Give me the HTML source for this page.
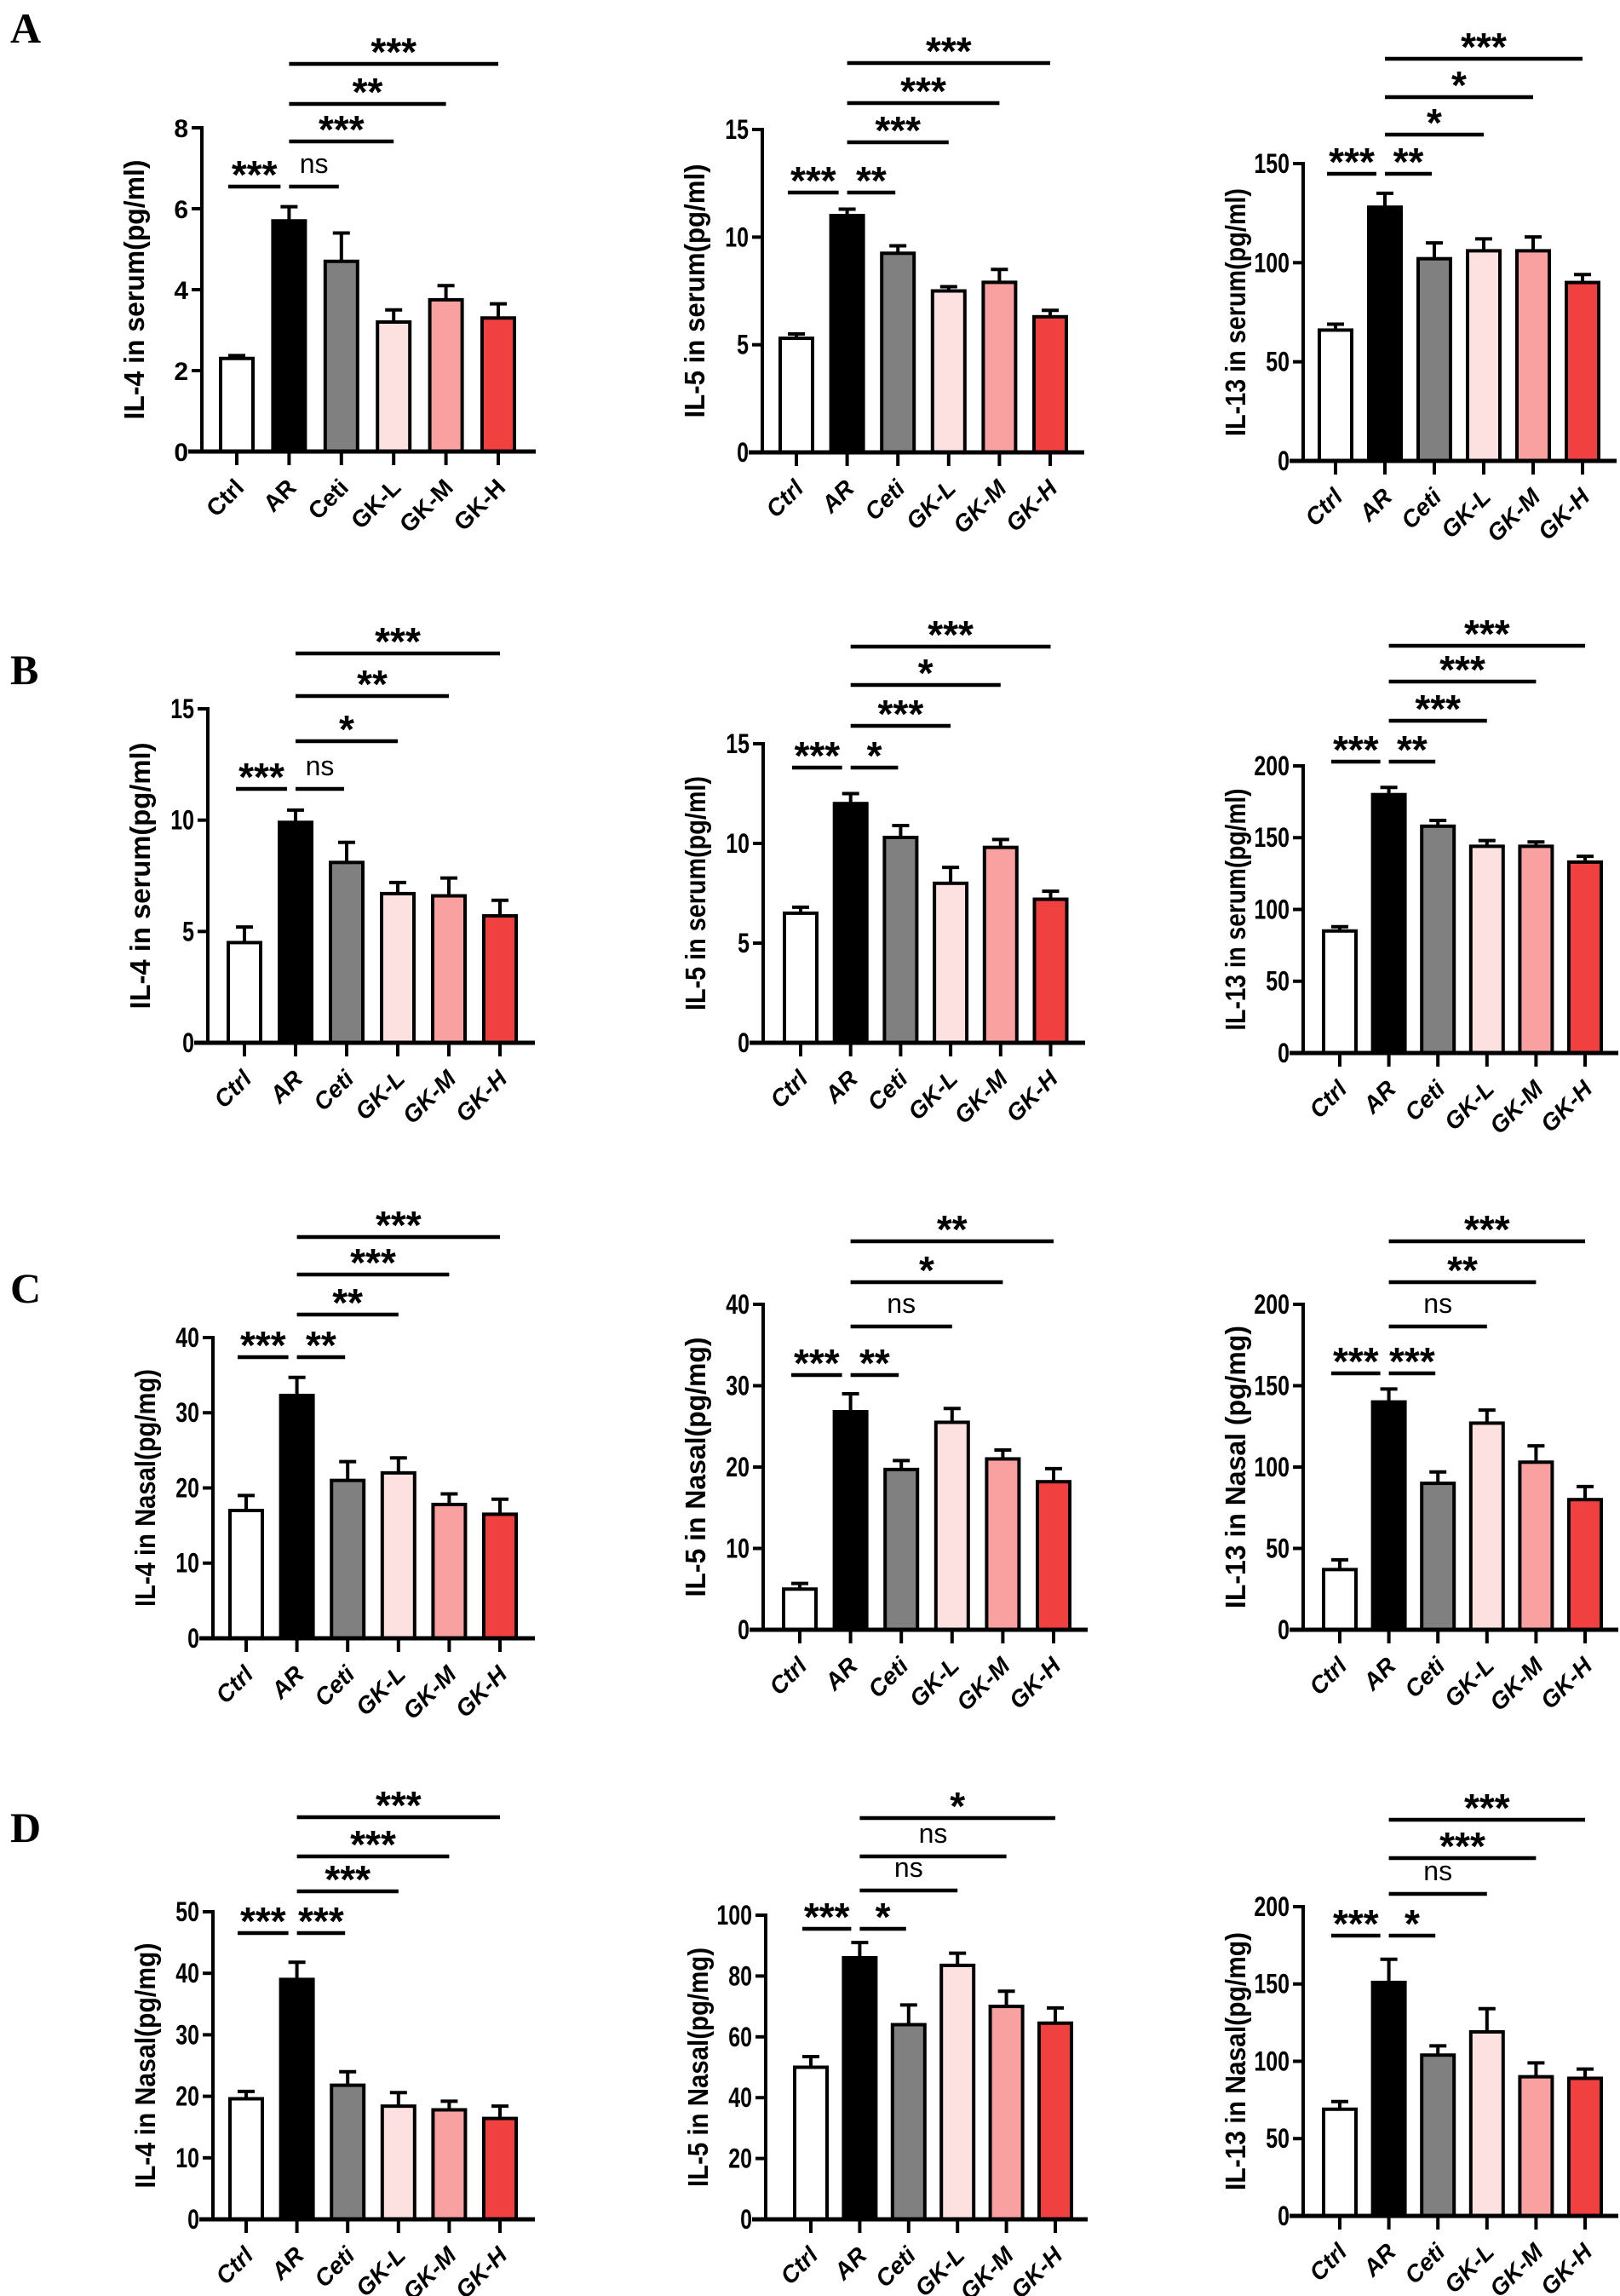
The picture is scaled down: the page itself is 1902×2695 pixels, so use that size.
<!DOCTYPE html>
<html>
<head>
<meta charset="utf-8">
<style>
  html,body{margin:0;padding:0;background:#fff;}
  svg{display:block;}
  text{font-family:"Liberation Sans",sans-serif;}
  text.panel{font-family:"Liberation Serif",serif;}
</style>
</head>
<body>
<svg id="fig" width="1902" height="2695" viewBox="0 0 1902 2695" xmlns="http://www.w3.org/2000/svg">
  <rect width="1902" height="2695" fill="#fff"/>
  <text class="panel" x="12" y="50" font-weight="bold" font-size="50">A</text>
  <text class="panel" x="12" y="803" font-weight="bold" font-size="50">B</text>
  <text class="panel" x="12" y="1529" font-weight="bold" font-size="50">C</text>
  <text class="panel" x="12" y="2162" font-weight="bold" font-size="50">D</text>
</svg>
<script>
const categories = ["Ctrl","AR","Ceti","GK-L","GK-M","GK-H"];
const barColors = ["#ffffff","#000000","#808080","#fde0e0","#f9a0a0","#f04040"];

const valuesA1 = [2.3,5.7,4.7,3.2,3.75,3.3];
const errorsA1 = [0.07,0.35,0.7,0.3,0.35,0.35];
const ticksA1 = [0,2,4,6,8];
const sigA1 = ["***","ns","***","**","***"];

const valuesA2 = [5.3,11,9.25,7.5,7.9,6.3];
const errorsA2 = [0.2,0.3,0.35,0.2,0.6,0.3];
const ticksA2 = [0,5,10,15];
const sigA2 = ["***","**","***","***","***"];

const valuesA3 = [66,128,102,106,106,90];
const errorsA3 = [3,7,8,6,7,4];
const ticksA3 = [0,50,100,150];
const sigA3 = ["***","**","*","*","***"];

const valuesB1 = [4.5,9.9,8.1,6.7,6.6,5.7];
const errorsB1 = [0.7,0.55,0.9,0.5,0.8,0.7];
const ticksB1 = [0,5,10,15];
const sigB1 = ["***","ns","*","**","***"];

const valuesB2 = [6.5,12,10.3,8,9.8,7.2];
const errorsB2 = [0.3,0.5,0.6,0.8,0.4,0.4];
const ticksB2 = [0,5,10,15];
const sigB2 = ["***","*","***","*","***"];

const valuesB3 = [85,180,158,144,144,133];
const errorsB3 = [3,5,4,4,3,4];
const ticksB3 = [0,50,100,150,200];
const sigB3 = ["***","**","***","***","***"];

const valuesC1 = [17,32.3,21,22,17.8,16.5];
const errorsC1 = [2,2.4,2.5,2,1.4,2];
const ticksC1 = [0,10,20,30,40];
const sigC1 = ["***","**","**","***","***"];

const valuesC2 = [5,26.8,19.7,25.5,21,18.2];
const errorsC2 = [0.7,2.2,1.1,1.7,1.1,1.6];
const ticksC2 = [0,10,20,30,40];
const sigC2 = ["***","**","ns","*","**"];

const valuesC3 = [37,140,90,127,103,80];
const errorsC3 = [6,8,7,8,10,8];
const ticksC3 = [0,50,100,150,200];
const sigC3 = ["***","***","ns","**","***"];

const valuesD1 = [19.6,39,21.8,18.4,17.8,16.4];
const errorsD1 = [1.2,2.8,2.2,2.2,1.4,2];
const ticksD1 = [0,10,20,30,40,50];
const sigD1 = ["***","***","***","***","***"];

const valuesD2 = [50,86,64,83.5,70,64.5];
const errorsD2 = [3.5,5,6.5,4,5,5];
const ticksD2 = [0,20,40,60,80,100];
const sigD2 = ["***","*","ns","ns","*"];

const valuesD3 = [69,151,104,119,90,89];
const errorsD3 = [5,15,6,15,9,6];
const ticksD3 = [0,50,100,150,200];
const sigD3 = ["***","*","ns","***","***"];

const NS = "http://www.w3.org/2000/svg";
const svg = document.getElementById("fig");

function mk(tag, attrs, parent){
  const e = document.createElementNS(NS, tag);
  for (const k in attrs) e.setAttribute(k, attrs[k]);
  (parent||svg).appendChild(e);
  return e;
}

const charts = [
  {id:"a1", vals:valuesA1, errs:errorsA1, ticks:ticksA1, sig:sigA1, title:"IL-4 in serum(pg/ml)", tlen:305, ax:237, t0:278, step:61.4, end:629, top:150, zero:530, sigY:[219,166,122,75], italic:false},
  {id:"a2", vals:valuesA2, errs:errorsA2, ticks:ticksA2, sig:sigA2, title:"IL-5 in serum(pg/ml)", tlen:298, ax:895, t0:935, step:59.6, end:1273, top:152, zero:531, sigY:[226,167,121,74], italic:true},
  {id:"a3", vals:valuesA3, errs:errorsA3, ticks:ticksA3, sig:sigA3, title:"IL-13 in serum(pg/ml)", tlen:291, ax:1530, t0:1568, step:58, end:1898, top:192, zero:541, sigY:[204,158,114,69], italic:true},
  {id:"b1", vals:valuesB1, errs:errorsB1, ticks:ticksB1, sig:sigB1, title:"IL-4 in serum(pg/ml)", tlen:313, ax:244, t0:287, step:60, end:628, top:832, zero:1224, sigY:[926,870,817,767], italic:true},
  {id:"b2", vals:valuesB2, errs:errorsB2, ticks:ticksB2, sig:sigB2, title:"IL-5 in serum(pg/ml)", tlen:275, ax:896, t0:940, step:58.7, end:1274, top:873, zero:1224, sigY:[901,852,804,759], italic:true},
  {id:"b3", vals:valuesB3, errs:errorsB3, ticks:ticksB3, sig:sigB3, title:"IL-13 in serum(pg/ml)", tlen:284, ax:1530, t0:1573, step:57.6, end:1900, top:899, zero:1236, sigY:[894,846,800,758], italic:true},
  {id:"c1", vals:valuesC1, errs:errorsC1, ticks:ticksC1, sig:sigC1, title:"IL-4 in Nasal(pg/mg)", tlen:279, ax:250, t0:289, step:59.6, end:628, top:1570, zero:1923, sigY:[1593,1543,1496,1452], italic:true},
  {id:"c2", vals:valuesC2, errs:errorsC2, ticks:ticksC2, sig:sigC2, title:"IL-5 in Nasal(pg/mg)", tlen:305, ax:896, t0:939, step:59.6, end:1277, top:1531, zero:1913, sigY:[1614,1557,1505,1457], italic:true},
  {id:"c3", vals:valuesC3, errs:errorsC3, ticks:ticksC3, sig:sigC3, title:"IL-13 in Nasal (pg/mg)", tlen:332, ax:1530, t0:1573, step:57.6, end:1900, top:1531, zero:1913, sigY:[1612,1557,1505,1457], italic:true},
  {id:"d1", vals:valuesD1, errs:errorsD1, ticks:ticksD1, sig:sigD1, title:"IL-4 in Nasal(pg/mg)", tlen:288, ax:250, t0:289, step:59.6, end:628, top:2244, zero:2605, sigY:[2269,2220,2179,2133], italic:true},
  {id:"d2", vals:valuesD2, errs:errorsD2, ticks:ticksD2, sig:sigD2, title:"IL-5 in Nasal(pg/mg)", tlen:281, ax:899, t0:952, step:57.4, end:1277, top:2248, zero:2605, sigY:[2264,2219,2179,2134], italic:true},
  {id:"d3", vals:valuesD3, errs:errorsD3, ticks:ticksD3, sig:sigD3, title:"IL-13 in Nasal(pg/mg)", tlen:303, ax:1530, t0:1573, step:57.6, end:1900, top:2238, zero:2601, sigY:[2272,2223,2181,2136], italic:true}
];

charts.forEach(c => {
  const g = mk("g", {});
  
  
  const ymax = c.ticks[c.ticks.length-1];
  const yScale = v => c.zero - (v / ymax) * (c.zero - c.top);
  const xScale = i => c.t0 + i * c.step;
  const bw = 38;

  c.vals.forEach((v, i) => {
    const x = xScale(i), y = yScale(v), ye = yScale(v + c.errs[i]);
    const eb = mk("path", {d:`M${x} ${y} V${ye} M${x-10} ${ye} H${x+10}`, stroke:"#000", "stroke-width":4, fill:"none"}, g);
    
    
    const r = mk("rect", {x:x-bw/2, y:y, width:bw, height:c.zero-y, fill:barColors[i], stroke:"#000", "stroke-width":4}, g);
    
    
  });

  const ya = mk("line", {x1:c.ax, y1:c.top-2, x2:c.ax, y2:c.zero+2, stroke:"#000", "stroke-width":4}, g);
  
  
  c.ticks.forEach(t => {
    const y = yScale(t);
    const tk = mk("line", {x1:c.ax-12, y1:y, x2:c.ax, y2:y, stroke:"#000", "stroke-width":4}, g);
    
    
    const tl = mk("text", {x:c.ax-16, y:y+11, "text-anchor":"end", "font-size":c.italic?32:30, "font-weight":"bold", transform: c.italic ? `translate(${(c.ax-16)*0.22} 0) scale(0.78 1)` : ""}, g);
    tl.textContent = t;
    
    
  });

  const xa = mk("line", {x1:c.ax-16, y1:c.zero, x2:c.end, y2:c.zero, stroke:"#000", "stroke-width":5}, g);
  
  
  categories.forEach((cat, i) => {
    const x = xScale(i);
    const tk = mk("line", {x1:x, y1:c.zero, x2:x, y2:c.zero+16, stroke:"#000", "stroke-width":4}, g);
    
    
    const lx = x + 10, ly = c.zero + 44;
    const tl = mk("text", {x:lx, y:ly, "text-anchor":"end", "font-size":28, "font-weight":"bold", "font-style":c.italic?"italic":"normal", transform:`rotate(-45 ${lx} ${ly})`}, g);
    tl.textContent = cat;
    
    
  });

  const tx = c.ax - 68, ty = (c.top + c.zero) / 2;
  const tt = mk("text", {x:tx, y:ty, "text-anchor":"middle", "font-size":33, "font-weight":"bold", textLength:c.tlen, lengthAdjust:"spacingAndGlyphs", transform:`rotate(-90 ${tx} ${ty})`}, g);
  tt.textContent = c.title;
  
  

  const pairs = [[0,1],[1,2],[1,3],[1,4],[1,5]];
  pairs.forEach((p, k) => {
    let x1, x2;
    if (k === 0) { x1 = xScale(0) - 10; x2 = xScale(1) - 10; }
    else if (k === 1) { x1 = xScale(1); x2 = xScale(2) - 3; }
    else { x1 = xScale(1); x2 = xScale(p[1]); }
    const y = k < 2 ? c.sigY[0] : c.sigY[k-1];
    const ln = mk("line", {x1:x1, y1:y, x2:x2, y2:y, stroke:"#000", "stroke-width":4.5}, g);
    
    
    const lab = c.sig[k];
    const isNs = lab === "ns";
    const st = mk("text", {x:(x1+x2)/2, y: isNs ? y-16 : y+2, "text-anchor":"middle", "font-size": isNs ? 32 : 46, "font-weight": isNs ? "normal" : "bold"}, g);
    st.textContent = lab;
    
    
  });
});
</script>
</body>
</html>
